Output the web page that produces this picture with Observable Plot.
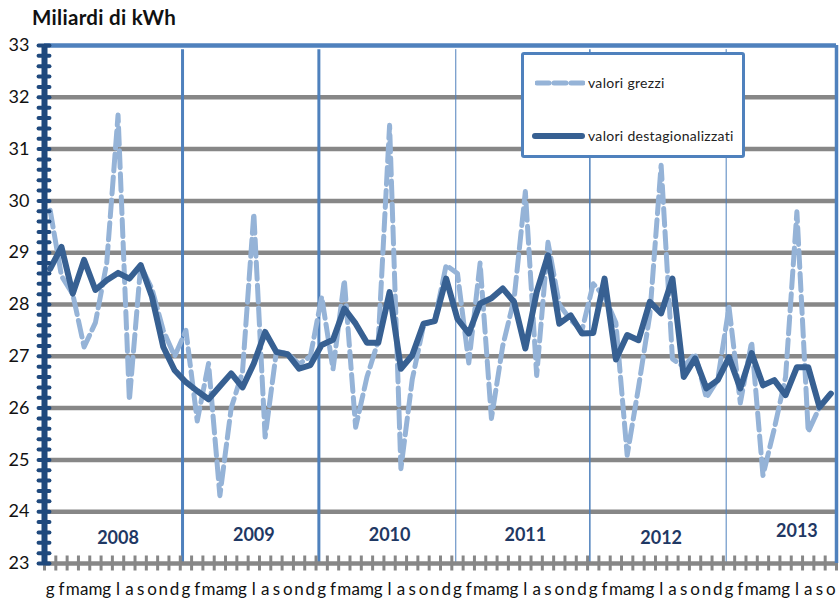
<!DOCTYPE html>
<html><head><meta charset="utf-8">
<script src="https://cdn.jsdelivr.net/npm/d3@7"></script>
<script src="https://cdn.jsdelivr.net/npm/@observablehq/plot@0.6"></script>
<style>
body{margin:0;background:#fff;}
#wrap{position:relative;width:839px;height:599px;font-family:Lato,"Open Sans",sans-serif;}
#title{position:absolute;left:32px;top:5px;font-weight:700;font-size:20.5px;color:#111;letter-spacing:0.3px;}
#legend{position:absolute;left:521px;top:52px;width:218px;height:100px;border:3px solid #4F81BD;border-radius:3px;background:#fff;}
.entry{position:absolute;display:flex;align-items:center;font-size:14px;color:#222;letter-spacing:0.3px;}
.entry svg{display:block;margin-right:3px;}
</style></head>
<body>
<div id="wrap">
  <div id="chart"></div>
  <div id="title">Miliardi di kWh</div>
  <div id="legend">
    <div class="entry" style="left:11px;top:19px;"><svg width="50" height="10"><line x1="2" y1="5" x2="48" y2="5" stroke="#95B3D7" stroke-width="5" stroke-dasharray="12,5" stroke-linecap="round"/></svg>valori grezzi</div>
    <div class="entry" style="left:8px;top:72px;"><svg width="53" height="10"><line x1="3" y1="5" x2="50" y2="5" stroke="#376092" stroke-width="6" stroke-linecap="round"/></svg>valori destagionalizzati</div>
  </div>
</div>
<script>
const months = ["g","f","m","a","m","g","l","a","s","o","n","d"];
const years = [2008, 2009, 2010, 2011, 2012, 2013];
const yTicks = [23, 24, 25, 26, 27, 28, 29, 30, 31, 32, 33];

// valori grezzi (raw), Jan 2008 - Oct 2013
const raw = [
  29.82, 28.55, 28.2, 27.18, 27.65, 28.8, 31.66, 26.15, 28.75, 28.3, 27.5, 27.0,
  27.5, 25.75, 26.86, 24.31, 26.0, 26.7, 29.76, 25.44, 27.1, 27.05, 26.85, 27.0,
  28.15, 26.75, 28.47, 25.63, 26.6, 27.3, 31.46, 24.83, 26.55, 27.6, 27.7, 28.76,
  28.6, 26.87, 28.8, 25.8, 27.2, 28.1, 30.18, 26.63, 29.2, 28.0, 27.7, 27.5,
  28.4, 28.15, 27.65, 25.09, 26.4, 27.8, 30.69, 26.95, 26.8, 27.05, 26.2, 26.55,
  27.95, 26.1, 27.28, 24.7, 25.6, 26.6, 29.79, 25.54, 26.02, 26.3
];
// valori destagionalizzati (seasonally adjusted)
const sa = [
  28.69, 29.11, 28.21, 28.86, 28.28, 28.47, 28.61, 28.50, 28.76, 28.15, 27.18, 26.73,
  26.50, 26.33, 26.17, 26.42, 26.67, 26.40, 26.86, 27.47, 27.08, 27.04, 26.76, 26.83,
  27.22, 27.32, 27.92, 27.63, 27.26, 27.26, 28.24, 26.76, 27.02, 27.63, 27.68, 28.50,
  27.72, 27.44, 28.02, 28.12, 28.31, 28.05, 27.15, 28.24, 28.95, 27.63, 27.79, 27.44,
  27.45, 28.50, 26.94, 27.41, 27.31, 28.05, 27.83, 28.50, 26.60, 26.96, 26.38, 26.54,
  26.98, 26.38, 27.06, 26.44, 26.54, 26.25, 26.79, 26.79, 26.02, 26.28
];
// year separator positions (in month index units)
const yearSeparators = [11.7, 23.75, 35.85, 47.7, 59.75];
const sepWidths = [3, 3, 1, 1.5, 1];
// year label vertical placement (value units)
const yearLabelY = [23.48, 23.55, 23.55, 23.55, 23.48, 23.62];

const data = raw.map((v, i) => ({i, raw: v, sa: sa[i], label: months[i % 12]}));
const n = raw.length;
const boundaries = d3.range(0, n + 1).map(k => k - 0.5);
const minor = d3.range(0, 51).map(k => 23 + k * 0.2);

const GRID = "#878787", BLUE = "#4F81BD", NAVY = "#1F497D";

const chart = Plot.plot({
  width: 839, height: 599,
  marginLeft: 44, marginRight: 3, marginTop: 45, marginBottom: 36,
  x: {domain: [-0.5, n - 0.5], axis: null},
  y: {domain: [23, 33], axis: null},
  style: {fontFamily: 'Lato, "Open Sans", sans-serif', background: "white", overflow: "visible"},
  marks: [
    Plot.ruleY(d3.range(24, 33), {stroke: GRID, strokeWidth: 4.5}),
    Plot.ruleX(yearSeparators, {x: d => d, y1: 23, y2: 32.92, stroke: BLUE, strokeWidth: (d, i) => sepWidths[i]}),
    Plot.ruleY([23], {stroke: GRID, strokeWidth: 4.5}),
    Plot.ruleX(boundaries, {x: d => d, y1: 22.855, y2: 23.145, stroke: GRID, strokeWidth: 3}),
    Plot.ruleY([33], {stroke: BLUE, strokeWidth: 4.5}),
    Plot.ruleX([n - 0.5], {y1: 23, y2: 33, stroke: BLUE, strokeWidth: 3.5}),
    Plot.line(data, {x: "i", y: "raw", stroke: "#95B3D7", strokeWidth: 5, strokeDasharray: "17,6"}),
    Plot.line(data, {x: "i", y: "sa", stroke: "#376092", strokeWidth: 6, strokeLinejoin: "round", strokeLinecap: "round"}),
    Plot.ruleX([-0.5], {y1: 23, y2: 33, stroke: NAVY, strokeWidth: 6}),
    Plot.ruleY(minor, {y: d => d, x1: -0.98, x2: -0.02, stroke: NAVY, strokeWidth: 4, strokeLinecap: "round"}),
    Plot.text(yTicks, {x: -0.5, y: d => d, text: d => String(d), textAnchor: "end", dx: -15, fontSize: 18, fill: "#111"}),
    Plot.text(data, {x: "i", y: 23, text: "label", dy: 26, fontSize: 17, fill: "#111"}),
    Plot.text(years, {x: (d, k) => k * 12 + 6, y: (d, k) => yearLabelY[k], text: d => String(d), fontWeight: "bold", fontSize: 18, fill: "#1F3864"})
  ]
});
document.getElementById("chart").appendChild(chart);
</script>
</body></html>
